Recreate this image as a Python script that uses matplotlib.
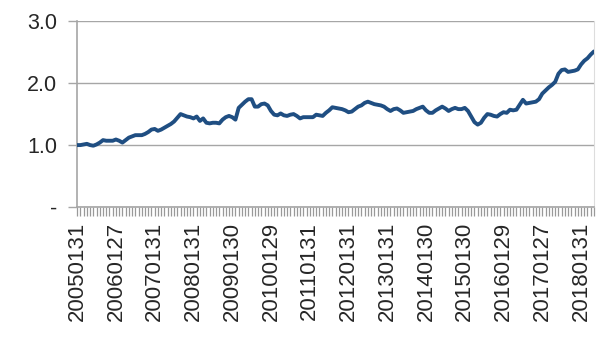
import matplotlib
matplotlib.use("Agg")
import matplotlib.pyplot as plt
import numpy as np

# valeurs mensuelles (2005-01 -> 2018-05)
valeurs = [
    1.00, 1.00, 1.01, 1.02, 1.00, 0.99, 1.01, 1.04, 1.08, 1.07, 1.07, 1.07,
    1.09, 1.07, 1.04, 1.08, 1.12, 1.14, 1.16, 1.16, 1.16, 1.18, 1.21, 1.25,
    1.26, 1.23, 1.25, 1.28, 1.31, 1.34, 1.38, 1.44, 1.50, 1.48, 1.46, 1.45,
    1.43, 1.46, 1.39, 1.43, 1.36, 1.35, 1.36, 1.36, 1.35, 1.41, 1.45, 1.47,
    1.45, 1.41, 1.60, 1.65, 1.70, 1.74, 1.74, 1.62, 1.62, 1.66, 1.67, 1.64,
    1.55, 1.49, 1.48, 1.51, 1.48, 1.47, 1.49, 1.50, 1.47, 1.43, 1.45, 1.45,
    1.45, 1.45, 1.49, 1.48, 1.47, 1.52, 1.56, 1.61, 1.60, 1.59, 1.58, 1.56,
    1.53, 1.54, 1.58, 1.62, 1.64, 1.68, 1.70, 1.68, 1.66, 1.65, 1.64, 1.62,
    1.58, 1.55, 1.58, 1.59, 1.56, 1.52, 1.53, 1.54, 1.55, 1.58, 1.60, 1.62,
    1.56, 1.52, 1.52, 1.56, 1.59, 1.62, 1.59, 1.55, 1.58, 1.60, 1.58, 1.58,
    1.60, 1.55, 1.46, 1.37, 1.33, 1.36, 1.44, 1.50, 1.49, 1.47, 1.46, 1.50,
    1.53, 1.52, 1.57, 1.56, 1.57, 1.65, 1.73, 1.67, 1.68, 1.69, 1.70, 1.74,
    1.83, 1.88, 1.93, 1.97, 2.02, 2.15, 2.21, 2.22, 2.18, 2.19, 2.20, 2.22,
    2.30, 2.36, 2.40, 2.46, 2.51,
]

etiquettes = ['20050131', '20060127', '20070131', '20080131', '20090130',
              '20100129', '20110131', '20120131', '20130131', '20140130',
              '20150130', '20160129', '20170127', '20180131']

y_ticks = [0, 1, 2, 3]
y_labels = ['-', '1.0', '2.0', '3.0']

plt.rcParams['font.family'] = ['Liberation Sans', 'DejaVu Sans']

x = np.arange(len(valeurs))

fig = plt.figure(figsize=(6.03, 3.51), dpi=100)
ax = fig.add_axes([0.128, 0.41, 0.857, 0.53])

gris = '#a6a6a6'
ax.plot(x, valeurs, color='#1f4e82', linewidth=2.8, solid_joinstyle='round',
        solid_capstyle='round', zorder=3)

ax.set_xlim(0, len(valeurs) - 1)
ax.set_ylim(0, 3)
ax.set_yticks(y_ticks)
ax.set_yticklabels(y_labels, fontsize=15.5, color='#262626')
ax.yaxis.grid(True, color=gris, linewidth=1.0)

ax.set_xticks(x[::12])
ax.set_xticklabels(etiquettes, rotation=90, fontsize=16, color='#262626')
ax.set_xticks(x, minor=True)

ax.tick_params(axis='y', length=6.5, width=1.0, color=gris, pad=8)
ax.tick_params(axis='x', which='both', length=6.5, width=0.9, color='#999999', pad=4)

for s in ['left', 'bottom']:
    ax.spines[s].set_color(gris)
    ax.spines[s].set_linewidth(1.2)
ax.spines['top'].set_visible(False)
ax.spines['right'].set_color('#dddddd')
ax.spines['right'].set_linewidth(0.8)

fig.savefig('out.png', dpi=100)
